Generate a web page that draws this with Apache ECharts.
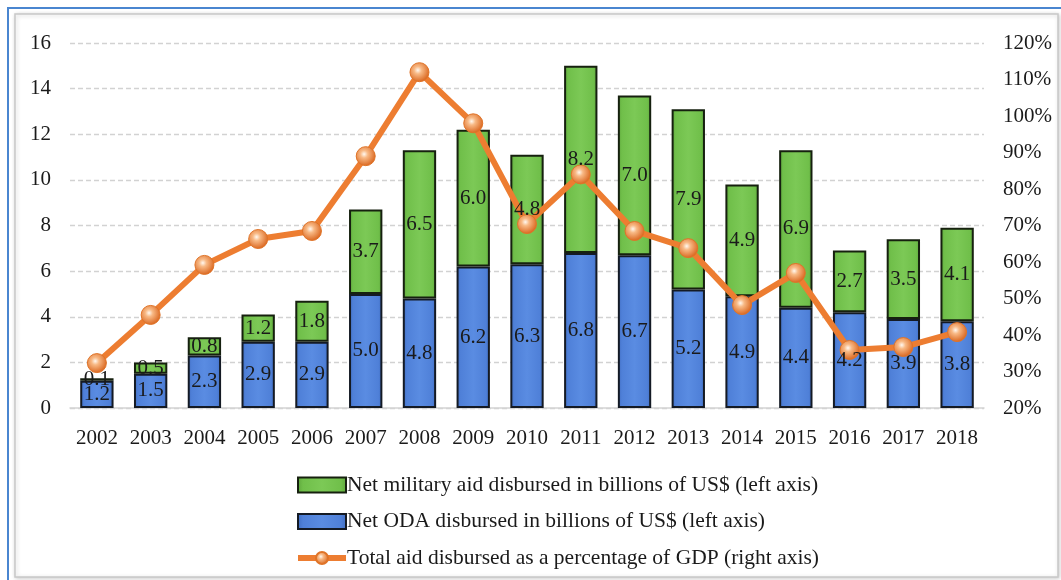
<!DOCTYPE html>
<html>
<head>
<meta charset="utf-8">
<style>
  html, body { margin: 0; padding: 0; background: #ffffff; }
  #chart { width: 1061px; height: 580px; }
</style>
<script src="https://cdn.jsdelivr.net/npm/echarts@6/dist/echarts.min.js"></script>
</head>
<body>
<div id="chart"></div>
<script>
// Years on the category axis
const years = ['2002','2003','2004','2005','2006','2007','2008','2009','2010','2011','2012','2013','2014','2015','2016','2017','2018'];
// Net ODA disbursed, billions of US$ (left axis)
const odaValues = [1.2, 1.5, 2.3, 2.9, 2.9, 5.0, 4.8, 6.2, 6.3, 6.8, 6.7, 5.2, 4.9, 4.4, 4.2, 3.9, 3.8];
// Net military aid disbursed, billions of US$ (left axis)
const militaryValues = [0.1, 0.5, 0.8, 1.2, 1.8, 3.7, 6.5, 6.0, 4.8, 8.2, 7.0, 7.9, 4.9, 6.9, 2.7, 3.5, 4.1];
// Total aid disbursed as a percentage of GDP (right axis)
const gdpShare = [32.3, 45.5, 59.2, 66.3, 68.5, 89, 112, 98, 70.4, 84, 68.5, 63.8, 48.2, 57, 35.9, 36.7, 40.8];

const names = {
  military: 'Net military aid disbursed in billions of US$ (left axis)',
  oda: 'Net ODA disbursed in billions of US$ (left axis)',
  share: 'Total aid disbursed as a percentage of GDP (right axis)'
};

const serif = '"Liberation Serif", "DejaVu Serif", serif';
const ink = '#1a1a1a';

const chart = echarts.init(document.getElementById('chart'), null, { renderer: 'canvas' });

const barLabel = {
  show: true,
  position: 'inside',
  fontFamily: serif,
  fontSize: 21,
  color: ink,
  formatter: p => p.value.toFixed(1)
};

// Glossy orange marker for the GDP-share line
const markerFill = new echarts.graphic.RadialGradient(0.42, 0.4, 0.62, [
  { offset: 0, color: '#fff8f0' },
  { offset: 0.3, color: '#f8b985' },
  { offset: 1, color: '#d8621a' }
]);

// Bar faces with a light bevel along the left/right edges
const face = (light, mid, dark) => new echarts.graphic.LinearGradient(0, 0, 1, 0, [
  { offset: 0, color: dark },
  { offset: 0.12, color: mid },
  { offset: 0.5, color: light },
  { offset: 0.88, color: mid },
  { offset: 1, color: dark }
]);

// Value labels sit above the line, so they are drawn by a transparent
// copy of the stack placed on a higher layer.
const labelLayer = (name, data) => ({
  name: name + ' ',
  type: 'bar',
  stack: 'labels',
  barWidth: '62%',
  barGap: '-100%',
  data: data,
  silent: true,
  itemStyle: { color: 'transparent', borderWidth: 0 },
  label: barLabel,
  z: 6
});

chart.setOption({
  animation: false,
  backgroundColor: '#ffffff',
  graphic: [
    {
      type: 'rect',
      shape: { x: 8, y: 8, width: 1070, height: 600 },
      style: { fill: 'none', stroke: '#4a86d0', lineWidth: 2 },
      silent: true, z: -10
    },
    {
      type: 'rect',
      shape: { x: 15, y: 14, width: 1043, height: 563 },
      style: {
        fill: '#ffffff', stroke: '#c8c8c8', lineWidth: 1.5,
        shadowColor: 'rgba(0,0,0,0.18)', shadowBlur: 4, shadowOffsetX: 1, shadowOffsetY: 1
      },
      silent: true, z: -9
    }
  ],
  grid: { left: 70, right: 77, top: 43, bottom: 172, containLabel: false },
  legend: {
    orient: 'vertical',
    left: 290,
    top: 469,
    itemGap: 14.5,
    itemWidth: 48,
    itemHeight: 15,
    lineStyle: { width: 6 },
    textStyle: { fontFamily: serif, fontSize: 21.5, color: ink, padding: [0, 0, 0, -4] },
    data: [
      { name: names.military, icon: 'rect' },
      { name: names.oda, icon: 'rect' },
      { name: names.share }
    ]
  },
  xAxis: {
    type: 'category',
    data: years,
    axisTick: { show: false },
    axisLine: { lineStyle: { color: '#d4d4d4', width: 1.5 } },
    axisLabel: { fontFamily: serif, fontSize: 21, color: ink, margin: 20, interval: 0 }
  },
  yAxis: [
    {
      type: 'value',
      min: 0, max: 16, interval: 2,
      axisLabel: { fontFamily: serif, fontSize: 21, color: ink, margin: 19 },
      axisLine: { show: false },
      axisTick: { show: false },
      splitLine: { lineStyle: { color: '#d2d2d2', type: [5, 3], width: 1.3 } }
    },
    {
      type: 'value',
      min: 20, max: 120, interval: 10,
      position: 'right',
      axisLabel: { fontFamily: serif, fontSize: 21, color: ink, margin: 19, formatter: '{value}%' },
      axisLine: { show: false },
      axisTick: { show: false },
      splitLine: { show: false }
    }
  ],
  series: [
    {
      name: names.oda,
      type: 'bar',
      stack: 'aid',
      barWidth: '62%',
      data: odaValues,
      itemStyle: { color: face('#5a8ce2', '#4f80d8', '#3f6cc0'), borderColor: '#141a24', borderWidth: 2 },
      z: 2
    },
    {
      name: names.military,
      type: 'bar',
      stack: 'aid',
      barWidth: '62%',
      data: militaryValues,
      itemStyle: { color: face('#7cc956', '#70bf4a', '#5da53b'), borderColor: '#16200f', borderWidth: 2 },
      z: 2
    },
    {
      name: names.share,
      type: 'line',
      yAxisIndex: 1,
      data: gdpShare,
      lineStyle: { color: '#ed7d31', width: 6 },
      itemStyle: { color: markerFill, borderColor: '#e07428', borderWidth: 1 },
      symbol: 'circle',
      symbolSize: 19,
      z: 5
    },
    labelLayer(names.oda, odaValues),
    labelLayer(names.military, militaryValues)
  ]
});
</script>
</body>
</html>
